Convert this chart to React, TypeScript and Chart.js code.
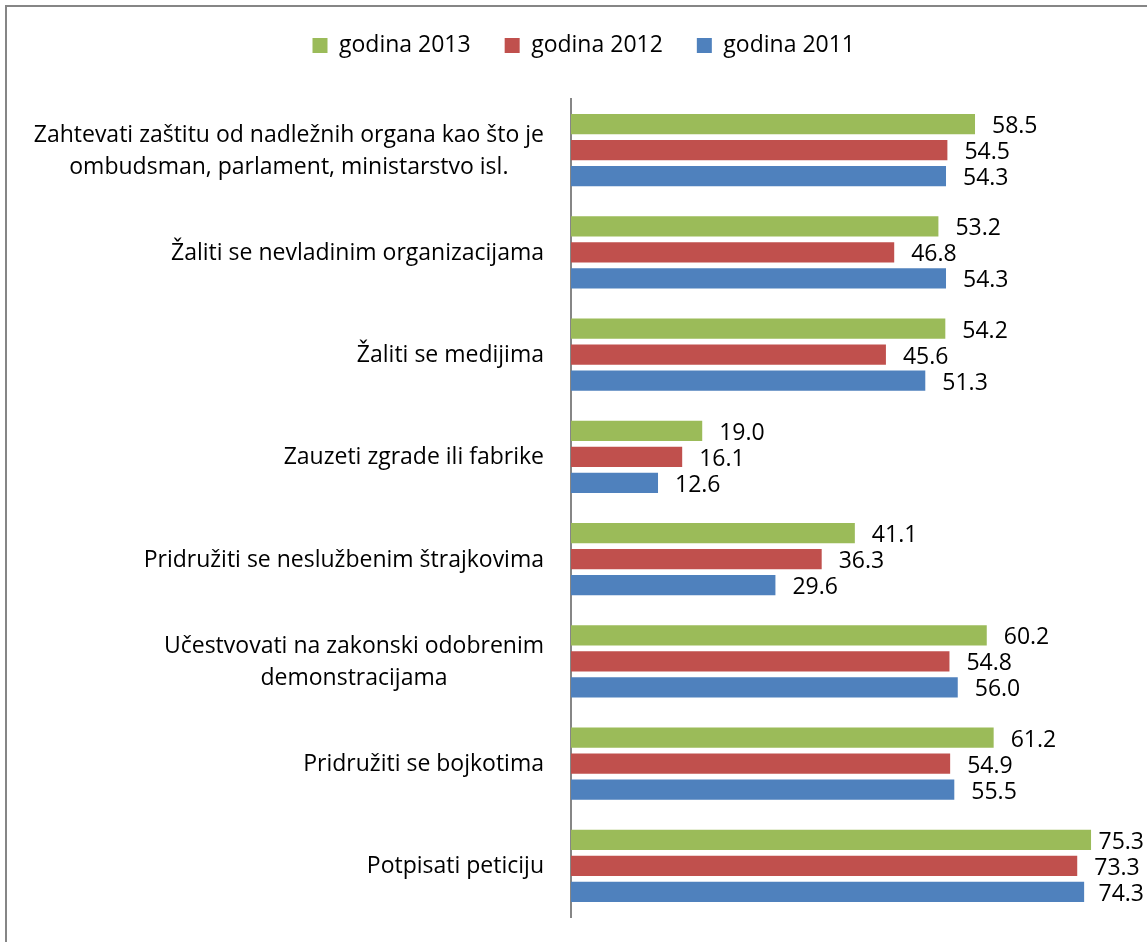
import React, { useEffect, useRef } from "react";
import { Chart, registerables } from "chart.js";

Chart.register(...registerables);

const categories: string[][] = [
  ["Zahtevati zaštitu od nadležnih organa kao što je", "ombudsman, parlament, ministarstvo isl."],
  ["Žaliti se nevladinim organizacijama"],
  ["Žaliti se medijima"],
  ["Zauzeti zgrade ili fabrike"],
  ["Pridružiti se neslužbenim štrajkovima"],
  ["Učestvovati na zakonski odobrenim", "demonstracijama"],
  ["Pridružiti se bojkotima"],
  ["Potpisati peticiju"],
];

const seriesLabels = ["godina 2013", "godina 2012", "godina 2011"];
const values2013 = [58.5, 53.2, 54.2, 19.0, 41.1, 60.2, 61.2, 75.3];
const values2012 = [54.5, 46.8, 45.6, 16.1, 36.3, 54.8, 54.9, 73.3];
const values2011 = [54.3, 54.3, 51.3, 12.6, 29.6, 56.0, 55.5, 74.3];
const seriesColors = ["#9BBB59", "#C0504D", "#4F81BD"];
const xMin = 0;
const xMax = 80;

const FONT_FAMILY = '"Open Sans", "DejaVu Sans", sans-serif';
const FONT_SIZE = 23;
const W = 1147;
const H = 942;

export default function App() {
  const canvasRef = useRef<HTMLCanvasElement | null>(null);

  useEffect(() => {
    const canvas = canvasRef.current;
    if (!canvas) return;

    const frame = {
      id: "frame",
      beforeDraw(chart: any) {
        const ctx = chart.ctx;
        ctx.save();
        ctx.fillStyle = "#ffffff";
        ctx.fillRect(0, 0, chart.width, chart.height);
        ctx.strokeStyle = "#868686";
        ctx.lineWidth = 2;
        ctx.strokeRect(6, 6, 1400, 1400);
        ctx.restore();
      },
    };

    const legendSpacer = {
      id: "legendSpacer",
      beforeInit(chart: any) {
        const legend = chart.legend;
        if (!legend) return;
        const orig = legend.fit;
        legend.fit = function () {
          orig.call(this);
          this.height = 99;
        };
      },
    };

    const valueLabels = {
      id: "valueLabels",
      afterDatasetsDraw(chart: any) {
        const ctx = chart.ctx;
        const maxRight = 1144;
        ctx.save();
        ctx.font = `${FONT_SIZE}px ${FONT_FAMILY}`;
        ctx.fillStyle = "#000000";
        ctx.textAlign = "left";
        ctx.textBaseline = "alphabetic";
        chart.data.datasets.forEach((ds: any, i: number) => {
          const meta = chart.getDatasetMeta(i);
          meta.data.forEach((bar: any, j: number) => {
            const v = ds.data[j] as number;
            const txt = v.toFixed(1);
            const tw = ctx.measureText(txt).width;
            const x = Math.min(bar.x + 17, maxRight - tw);
            ctx.fillText(txt, x, bar.y + 9);
          });
        });
        ctx.restore();
      },
    };

    const categoryLabels = {
      id: "categoryLabels",
      afterDraw(chart: any) {
        const ctx = chart.ctx;
        const yScale = chart.scales.y;
        const rightEdge = 544;
        const lineH = 32;
        ctx.save();
        ctx.font = `${FONT_SIZE}px ${FONT_FAMILY}`;
        ctx.fillStyle = "#000000";
        ctx.textAlign = "center";
        ctx.textBaseline = "middle";
        categories.forEach((lines, i) => {
          const yc = yScale.getPixelForValue(i);
          const blockW = Math.max(...lines.map((l) => ctx.measureText(l).width));
          const cx = rightEdge - blockW / 2;
          lines.forEach((line, k) => {
            const y = yc + (k - (lines.length - 1) / 2) * lineH + 1;
            ctx.fillText(line, cx, y);
          });
        });
        ctx.restore();
      },
    };

    const datasetValues = [values2013, values2012, values2011];

    const chart = new Chart(canvas, {
      type: "bar",
      data: {
        labels: categories,
        datasets: seriesLabels.map((label, i) => ({
          label,
          data: datasetValues[i],
          backgroundColor: seriesColors[i],
          borderWidth: 0,
          categoryPercentage: 0.763,
          barPercentage: 0.77,
        })),
      },
      options: {
        indexAxis: "y",
        responsive: false,
        animation: false,
        events: [],
        layout: { padding: { left: 44, right: 23.5, top: 0, bottom: 25 } },
        scales: {
          x: { display: false, min: xMin, max: xMax },
          y: {
            display: true,
            grid: { display: false },
            border: { display: true, color: "#868686", width: 2 },
            ticks: { display: false },
            afterFit: (s: any) => {
              s.width = 571 - 44;
            },
          },
        },
        plugins: {
          legend: {
            display: true,
            position: "top",
            labels: {
              boxWidth: 15,
              boxHeight: 15,
              padding: 34,
              color: "#000000",
              font: { family: FONT_FAMILY, size: FONT_SIZE },
            },
          },
          tooltip: { enabled: false },
        },
      } as any,
      plugins: [frame, legendSpacer, valueLabels, categoryLabels],
    });

    return () => {
      chart.destroy();
    };
  }, []);

  return (
    <div style={{ position: "fixed", left: 0, top: 0, width: W, height: H, overflow: "hidden", background: "#fff" }}>
      <canvas ref={canvasRef} width={W} height={H} style={{ display: "block", width: W, height: H }} />
    </div>
  );
}
